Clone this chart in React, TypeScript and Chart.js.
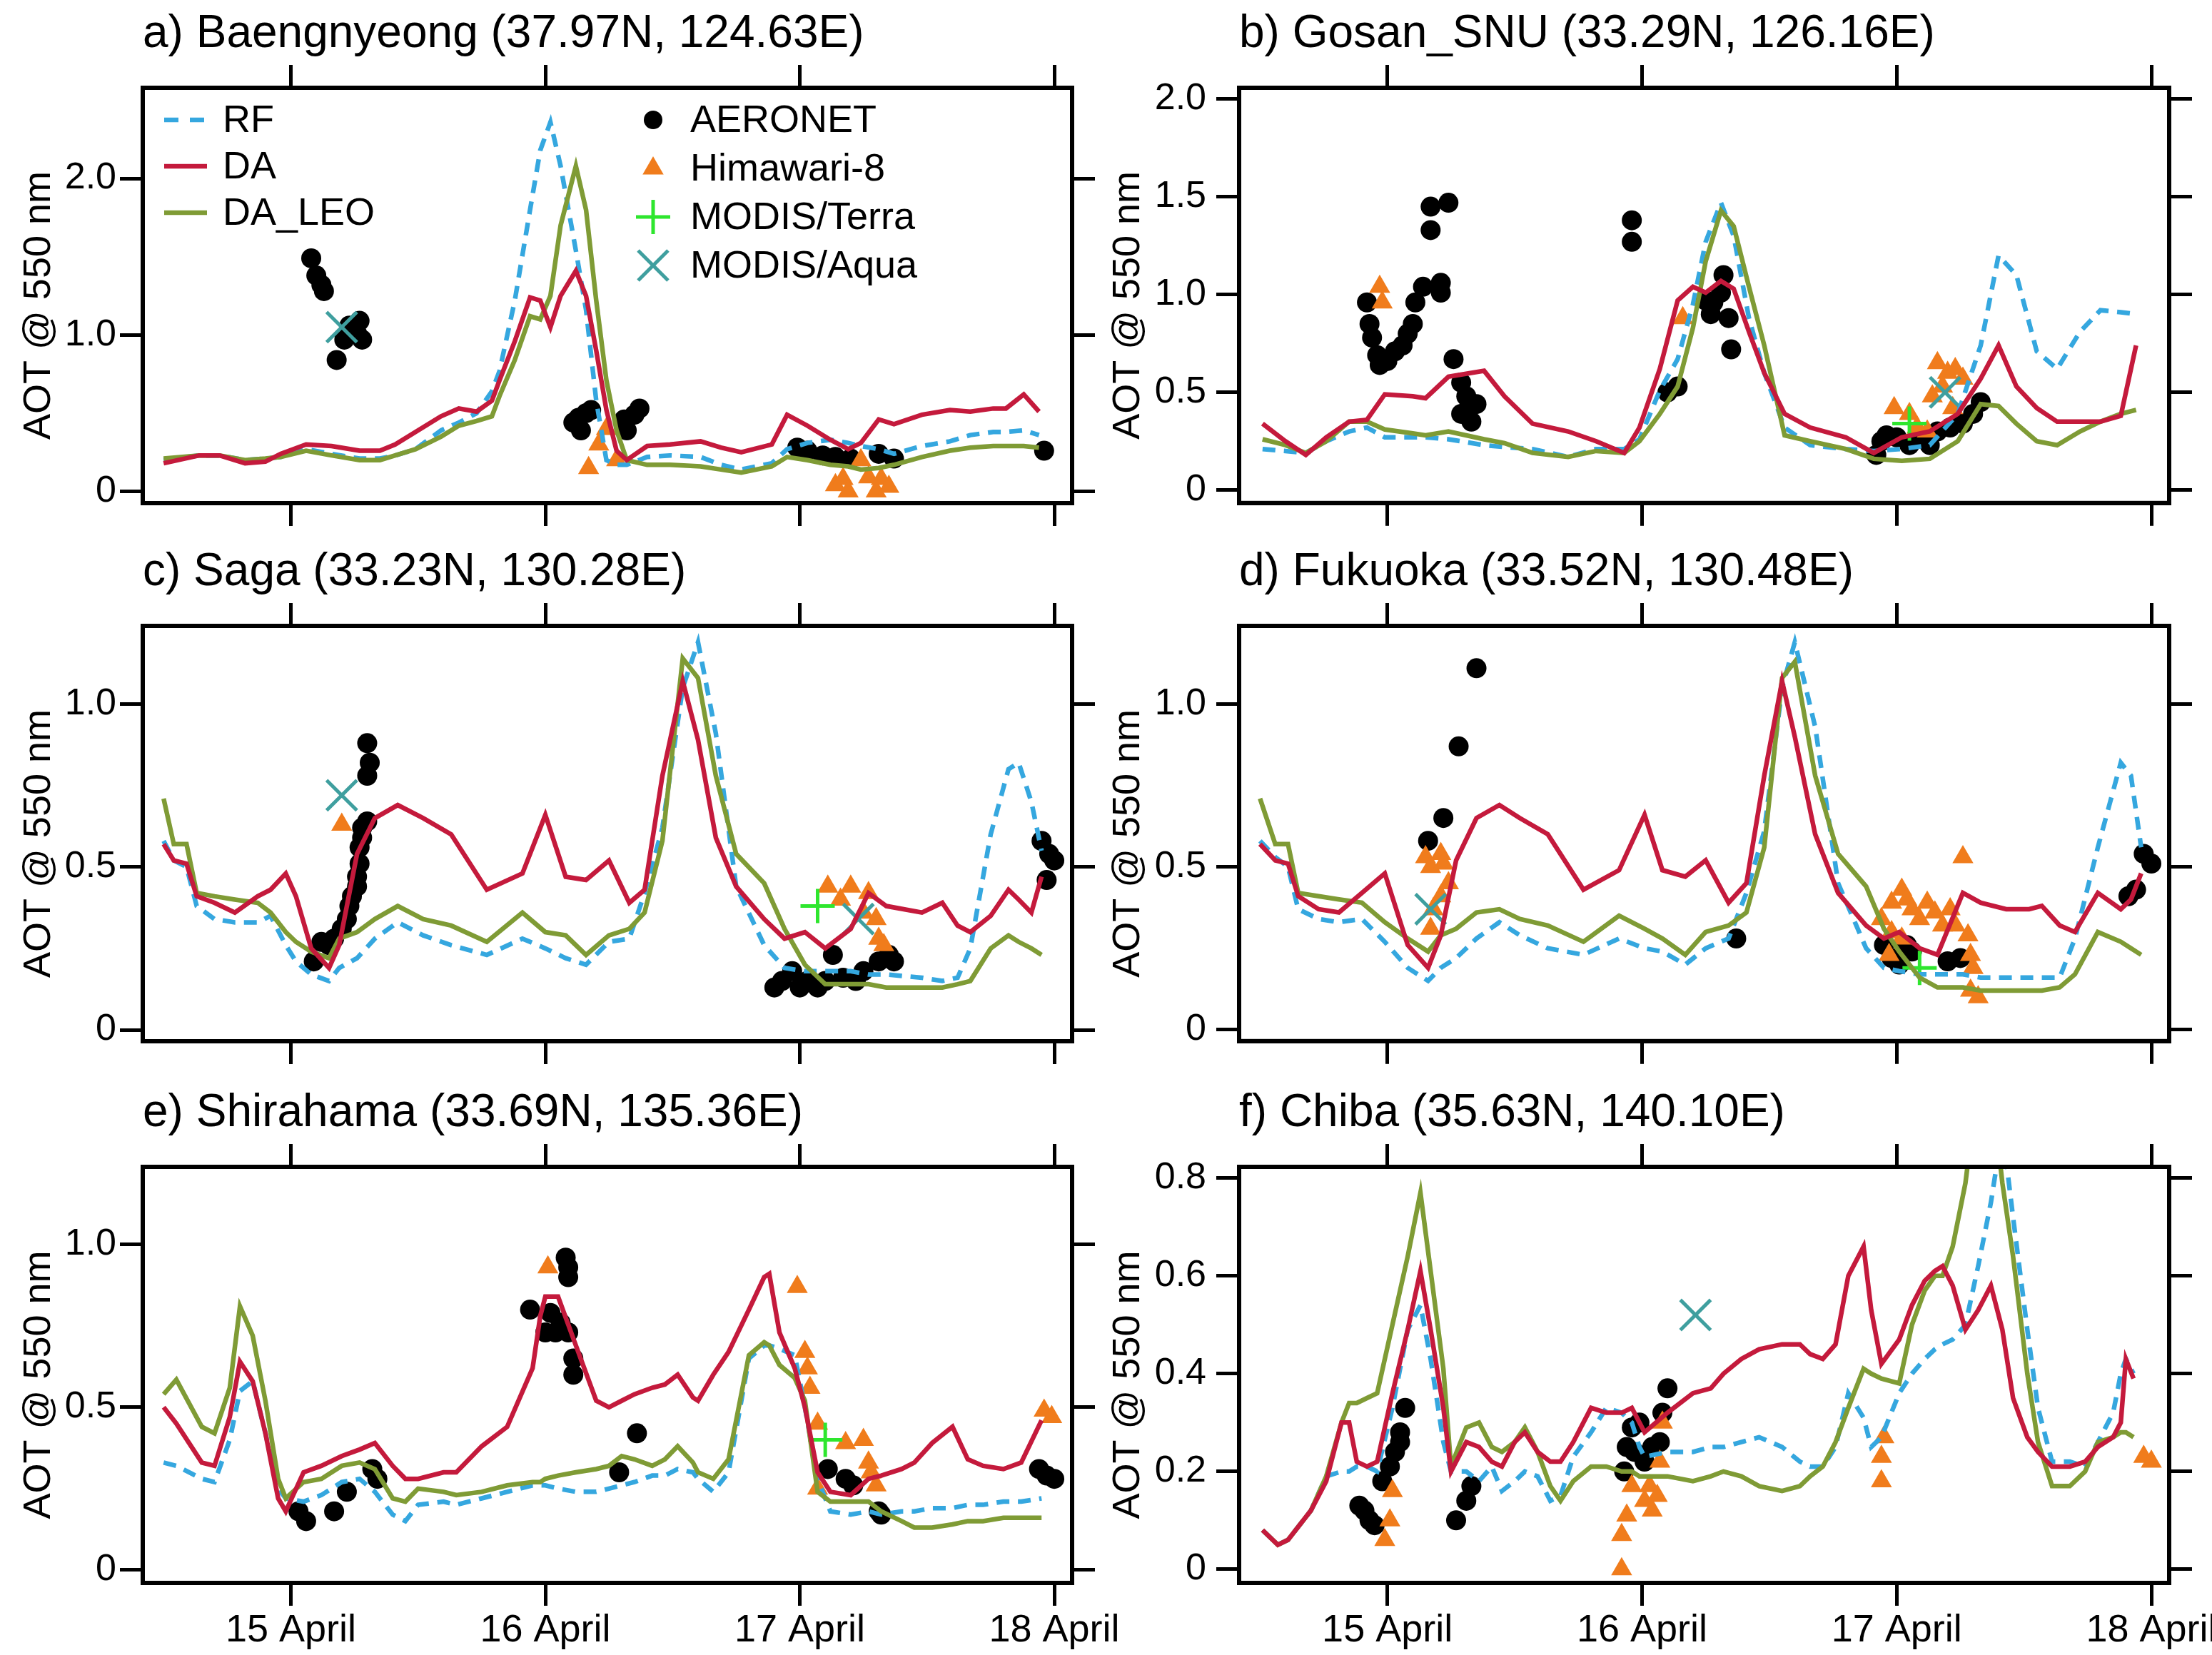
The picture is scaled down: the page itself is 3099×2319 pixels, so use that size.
import React, { useEffect, useRef } from 'react';
import { Chart, registerables } from 'chart.js';

Chart.register(...registerables);

const FONT = "'Liberation Sans', Arial, Helvetica, sans-serif";

// ---------- shared axis data ----------
const xTickValues = [1, 2, 3, 4];
const xTickLabels = ['15 April', '16 April', '17 April', '18 April'];
const X_MIN = 0.418;
const X_MAX = 4.07;
const yAxisTitle = 'AOT @ 550 nm';

const seriesNames = ['RF', 'DA', 'DA_LEO'];
const obsNames = ['AERONET', 'Himawari-8', 'MODIS/Terra', 'MODIS/Aqua'];

// ---------- a) Baengnyeong ----------
const aTime = [0.5, 0.64, 0.72, 0.82, 0.9, 0.96, 1.06, 1.16, 1.27, 1.35, 1.41, 1.49, 1.59, 1.66, 1.73, 1.79, 1.82, 1.88, 1.94, 1.98, 2.02, 2.06, 2.12, 2.16, 2.2, 2.24, 2.28, 2.32, 2.4, 2.49, 2.61, 2.69, 2.77, 2.89, 2.95, 3.03, 3.12, 3.19, 3.24, 3.31, 3.37, 3.48, 3.59, 3.67, 3.76, 3.81, 3.88, 3.94];
const aRF = [0.20, 0.23, 0.23, 0.20, 0.21, 0.22, 0.27, 0.24, 0.21, 0.21, 0.23, 0.27, 0.39, 0.44, 0.50, 0.64, 0.77, 1.22, 1.80, 2.18, 2.36, 2.08, 1.54, 1.16, 0.58, 0.20, 0.17, 0.17, 0.22, 0.23, 0.22, 0.17, 0.14, 0.18, 0.27, 0.31, 0.33, 0.31, 0.29, 0.27, 0.24, 0.29, 0.32, 0.36, 0.38, 0.38, 0.39, 0.36];
const aDA = [0.18, 0.23, 0.23, 0.18, 0.19, 0.24, 0.30, 0.29, 0.26, 0.26, 0.30, 0.38, 0.48, 0.53, 0.51, 0.58, 0.71, 0.96, 1.24, 1.22, 1.05, 1.25, 1.41, 1.25, 0.90, 0.52, 0.26, 0.20, 0.29, 0.30, 0.32, 0.28, 0.25, 0.30, 0.49, 0.42, 0.33, 0.27, 0.31, 0.46, 0.43, 0.49, 0.52, 0.51, 0.53, 0.53, 0.62, 0.51];
const aLEO = [0.21, 0.23, 0.23, 0.20, 0.21, 0.22, 0.26, 0.23, 0.20, 0.20, 0.23, 0.27, 0.35, 0.42, 0.45, 0.48, 0.61, 0.84, 1.12, 1.10, 1.25, 1.70, 2.08, 1.80, 1.22, 0.71, 0.39, 0.20, 0.17, 0.17, 0.16, 0.14, 0.12, 0.16, 0.22, 0.20, 0.17, 0.16, 0.14, 0.15, 0.17, 0.22, 0.26, 0.28, 0.29, 0.29, 0.29, 0.28];
const aAeronet = [[1.08, 1.49], [1.10, 1.38], [1.12, 1.32], [1.13, 1.28], [1.18, 0.84], [1.21, 0.97], [1.23, 1.06], [1.25, 1.03], [1.27, 1.09], [1.28, 0.97], [1.26, 1.01], [2.11, 0.44], [2.13, 0.47], [2.14, 0.39], [2.16, 0.50], [2.18, 0.52], [2.31, 0.46], [2.32, 0.39], [2.35, 0.49], [2.37, 0.53], [2.99, 0.28], [3.03, 0.26], [3.09, 0.23], [3.14, 0.22], [3.20, 0.21], [3.31, 0.24], [3.37, 0.21], [3.96, 0.26]];
const aHima = [[2.17, 0.15], [2.21, 0.30], [2.24, 0.40], [2.28, 0.20], [3.14, 0.04], [3.17, 0.08], [3.19, 0.0], [3.24, 0.20], [3.27, 0.09], [3.30, 0.0], [3.32, 0.08], [3.35, 0.03]];
const aTerra: number[][] = [];
const aAqua = [[1.20, 1.05]];
const aYTicks = [0, 1, 2];

// ---------- b) Gosan_SNU ----------
const bTime = [0.51, 0.6, 0.68, 0.76, 0.85, 0.92, 0.99, 1.1, 1.15, 1.24, 1.38, 1.46, 1.57, 1.71, 1.82, 1.93, 1.99, 2.07, 2.14, 2.2, 2.25, 2.31, 2.36, 2.42, 2.48, 2.56, 2.66, 2.8, 2.91, 3.02, 3.13, 3.24, 3.33, 3.4, 3.47, 3.55, 3.63, 3.72, 3.8, 3.88, 3.94];
const bRF = [0.21, 0.20, 0.19, 0.25, 0.30, 0.32, 0.27, 0.27, 0.27, 0.26, 0.23, 0.22, 0.21, 0.17, 0.21, 0.21, 0.26, 0.51, 0.67, 0.95, 1.27, 1.47, 1.30, 0.88, 0.60, 0.32, 0.23, 0.21, 0.20, 0.21, 0.23, 0.39, 0.74, 1.20, 1.10, 0.71, 0.62, 0.81, 0.92, 0.91, 0.90];
const bDA = [0.34, 0.25, 0.18, 0.27, 0.35, 0.36, 0.49, 0.48, 0.47, 0.58, 0.61, 0.48, 0.34, 0.30, 0.25, 0.19, 0.32, 0.62, 0.97, 1.04, 1.01, 1.07, 1.03, 0.81, 0.60, 0.39, 0.32, 0.27, 0.19, 0.27, 0.30, 0.39, 0.57, 0.74, 0.53, 0.42, 0.35, 0.35, 0.35, 0.38, 0.74];
const bLEO = [0.26, 0.23, 0.19, 0.25, 0.35, 0.35, 0.31, 0.29, 0.28, 0.30, 0.26, 0.24, 0.19, 0.17, 0.20, 0.19, 0.25, 0.39, 0.53, 0.83, 1.17, 1.43, 1.35, 1.04, 0.74, 0.28, 0.25, 0.21, 0.16, 0.15, 0.16, 0.25, 0.44, 0.43, 0.34, 0.25, 0.23, 0.30, 0.35, 0.39, 0.41];
const bAeronet = [[0.92, 0.96], [0.93, 0.85], [0.94, 0.78], [0.96, 0.69], [0.97, 0.64], [1.00, 0.66], [1.03, 0.71], [1.06, 0.74], [1.08, 0.80], [1.10, 0.85], [1.11, 0.96], [1.14, 1.04], [1.17, 1.45], [1.17, 1.33], [1.21, 1.06], [1.24, 1.47], [1.21, 1.01], [1.26, 0.67], [1.29, 0.55], [1.31, 0.48], [1.32, 0.42], [1.33, 0.35], [1.35, 0.44], [1.29, 0.39], [1.96, 1.38], [1.96, 1.27], [2.10, 0.50], [2.14, 0.53], [2.25, 0.97], [2.27, 0.90], [2.28, 0.96], [2.31, 1.01], [2.32, 1.10], [2.34, 0.88], [2.35, 0.72], [2.92, 0.18], [2.94, 0.25], [2.96, 0.28], [3.00, 0.27], [3.05, 0.23], [3.10, 0.27], [3.13, 0.23], [3.16, 0.30], [3.21, 0.32], [3.26, 0.34], [3.30, 0.39], [3.33, 0.45]];
const bHima = [[0.97, 1.04], [0.98, 0.96], [2.16, 0.88], [2.99, 0.42], [3.05, 0.39], [3.08, 0.32], [3.12, 0.30], [3.14, 0.48], [3.16, 0.65], [3.18, 0.53], [3.20, 0.60], [3.22, 0.42], [3.23, 0.62], [3.26, 0.57]];
const bTerra = [[3.05, 0.34]];
const bAqua = [[3.19, 0.50]];
const bYTicks = [0, 0.5, 1, 1.5, 2];

// ---------- c) Saga ----------
const cTime = [0.5, 0.54, 0.59, 0.63, 0.7, 0.78, 0.87, 0.92, 0.98, 1.02, 1.08, 1.15, 1.19, 1.26, 1.33, 1.42, 1.52, 1.63, 1.77, 1.91, 2.0, 2.08, 2.16, 2.25, 2.33, 2.39, 2.46, 2.54, 2.6, 2.67, 2.75, 2.86, 2.94, 3.02, 3.1, 3.2, 3.27, 3.34, 3.48, 3.56, 3.62, 3.67, 3.75, 3.82, 3.86, 3.91, 3.95];
const cRF = [0.58, 0.52, 0.50, 0.38, 0.34, 0.33, 0.33, 0.35, 0.26, 0.21, 0.17, 0.15, 0.19, 0.22, 0.28, 0.33, 0.29, 0.26, 0.23, 0.28, 0.25, 0.22, 0.20, 0.27, 0.28, 0.42, 0.62, 1.05, 1.19, 0.91, 0.44, 0.26, 0.19, 0.18, 0.18, 0.18, 0.17, 0.17, 0.16, 0.15, 0.16, 0.25, 0.60, 0.80, 0.82, 0.70, 0.55];
const cDA = [0.57, 0.52, 0.51, 0.41, 0.39, 0.36, 0.41, 0.43, 0.48, 0.41, 0.25, 0.19, 0.26, 0.54, 0.65, 0.69, 0.65, 0.60, 0.43, 0.48, 0.66, 0.47, 0.46, 0.52, 0.39, 0.43, 0.78, 1.07, 0.89, 0.59, 0.44, 0.34, 0.28, 0.30, 0.25, 0.31, 0.42, 0.38, 0.36, 0.39, 0.32, 0.30, 0.35, 0.43, 0.40, 0.36, 0.47];
const cLEO = [0.71, 0.57, 0.57, 0.42, 0.41, 0.40, 0.39, 0.36, 0.30, 0.27, 0.24, 0.22, 0.28, 0.30, 0.34, 0.38, 0.34, 0.32, 0.27, 0.36, 0.30, 0.29, 0.23, 0.29, 0.31, 0.36, 0.58, 1.14, 1.08, 0.78, 0.54, 0.45, 0.31, 0.20, 0.14, 0.14, 0.14, 0.13, 0.13, 0.13, 0.14, 0.15, 0.25, 0.29, 0.27, 0.25, 0.23];
const cAeronet = [[1.09, 0.21], [1.12, 0.27], [1.15, 0.26], [1.17, 0.28], [1.20, 0.31], [1.22, 0.34], [1.23, 0.38], [1.24, 0.41], [1.26, 0.44], [1.26, 0.47], [1.27, 0.51], [1.27, 0.56], [1.28, 0.59], [1.28, 0.62], [1.30, 0.64], [1.30, 0.78], [1.31, 0.82], [1.30, 0.88], [2.90, 0.13], [2.93, 0.15], [2.97, 0.18], [3.00, 0.13], [3.03, 0.15], [3.07, 0.13], [3.10, 0.15], [3.13, 0.23], [3.17, 0.16], [3.22, 0.15], [3.25, 0.18], [3.31, 0.21], [3.35, 0.23], [3.37, 0.21], [3.95, 0.58], [3.97, 0.46], [3.98, 0.54], [4.00, 0.52]];
const cHima = [[1.20, 0.63], [3.11, 0.44], [3.16, 0.40], [3.20, 0.44], [3.25, 0.36], [3.27, 0.42], [3.30, 0.34], [3.31, 0.28], [3.33, 0.26]];
const cTerra = [[3.07, 0.38]];
const cAqua = [[1.20, 0.72], [3.23, 0.34]];
const cYTicks = [0, 0.5, 1];

// ---------- d) Fukuoka ----------
const dTime = [0.5, 0.56, 0.61, 0.65, 0.73, 0.81, 0.9, 0.99, 1.08, 1.16, 1.21, 1.27, 1.35, 1.44, 1.52, 1.63, 1.77, 1.91, 2.01, 2.08, 2.17, 2.25, 2.34, 2.41, 2.48, 2.55, 2.6, 2.68, 2.77, 2.88, 2.95, 3.01, 3.09, 3.16, 3.26, 3.33, 3.43, 3.52, 3.57, 3.64, 3.7, 3.79, 3.88, 3.92, 3.96];
const dRF = [0.58, 0.53, 0.50, 0.37, 0.34, 0.33, 0.34, 0.27, 0.19, 0.15, 0.19, 0.22, 0.28, 0.33, 0.29, 0.25, 0.23, 0.28, 0.25, 0.24, 0.20, 0.25, 0.28, 0.42, 0.61, 1.05, 1.19, 0.93, 0.45, 0.25, 0.19, 0.18, 0.17, 0.17, 0.17, 0.16, 0.16, 0.16, 0.16, 0.16, 0.28, 0.56, 0.82, 0.78, 0.56];
const dDA = [0.57, 0.52, 0.51, 0.41, 0.37, 0.36, 0.42, 0.48, 0.26, 0.19, 0.29, 0.52, 0.65, 0.69, 0.65, 0.60, 0.43, 0.49, 0.66, 0.49, 0.47, 0.52, 0.39, 0.45, 0.78, 1.07, 0.90, 0.60, 0.42, 0.32, 0.28, 0.30, 0.25, 0.23, 0.42, 0.39, 0.37, 0.37, 0.38, 0.32, 0.30, 0.42, 0.37, 0.40, 0.48];
const dLEO = [0.71, 0.57, 0.57, 0.42, 0.41, 0.40, 0.39, 0.33, 0.28, 0.24, 0.29, 0.31, 0.36, 0.37, 0.34, 0.32, 0.27, 0.35, 0.31, 0.28, 0.23, 0.30, 0.32, 0.36, 0.56, 1.08, 1.13, 0.78, 0.54, 0.44, 0.31, 0.24, 0.16, 0.13, 0.13, 0.12, 0.12, 0.12, 0.12, 0.13, 0.17, 0.30, 0.27, 0.25, 0.23];
const dAeronet = [[1.16, 0.58], [1.22, 0.65], [1.28, 0.87], [1.35, 1.11], [2.37, 0.28], [2.95, 0.26], [2.98, 0.22], [3.01, 0.20], [3.04, 0.26], [3.06, 0.24], [3.20, 0.21], [3.25, 0.22], [3.91, 0.41], [3.94, 0.43], [3.97, 0.54], [4.00, 0.51]];
const dHima = [[1.15, 0.53], [1.17, 0.50], [1.21, 0.54], [1.22, 0.51], [1.24, 0.45], [1.21, 0.41], [1.18, 0.37], [1.17, 0.31], [2.94, 0.34], [2.98, 0.39], [3.02, 0.43], [3.04, 0.40], [3.06, 0.37], [3.09, 0.34], [3.12, 0.39], [3.15, 0.36], [3.18, 0.32], [3.21, 0.37], [3.23, 0.32], [3.26, 0.53], [3.28, 0.29], [3.29, 0.23], [3.30, 0.19], [3.29, 0.12], [3.32, 0.10], [2.98, 0.30], [3.02, 0.28], [2.97, 0.23]];
const dTerra = [[3.09, 0.19]];
const dAqua = [[1.17, 0.37]];
const dYTicks = [0, 0.5, 1];

// ---------- e) Shirahama ----------
const eTime = [0.5, 0.55, 0.65, 0.7, 0.76, 0.8, 0.85, 0.9, 0.95, 0.98, 1.05, 1.12, 1.2, 1.27, 1.33, 1.4, 1.45, 1.5, 1.6, 1.65, 1.75, 1.85, 1.95, 1.98, 2.0, 2.05, 2.12, 2.2, 2.25, 2.3, 2.35, 2.42, 2.47, 2.52, 2.58, 2.6, 2.66, 2.72, 2.8, 2.86, 2.88, 2.92, 2.98, 3.02, 3.07, 3.12, 3.2, 3.27, 3.32, 3.4, 3.45, 3.52, 3.6, 3.66, 3.72, 3.8, 3.87, 3.95];
const eRF = [0.33, 0.32, 0.28, 0.27, 0.40, 0.55, 0.58, 0.42, 0.25, 0.22, 0.21, 0.23, 0.27, 0.28, 0.24, 0.17, 0.15, 0.20, 0.21, 0.20, 0.22, 0.24, 0.26, 0.26, 0.26, 0.25, 0.24, 0.24, 0.25, 0.26, 0.27, 0.29, 0.29, 0.31, 0.30, 0.28, 0.24, 0.30, 0.65, 0.69, 0.69, 0.68, 0.66, 0.50, 0.28, 0.18, 0.17, 0.18, 0.17, 0.18, 0.18, 0.19, 0.19, 0.20, 0.20, 0.21, 0.21, 0.22];
const eDA = [0.50, 0.45, 0.33, 0.32, 0.47, 0.64, 0.58, 0.42, 0.22, 0.18, 0.30, 0.32, 0.35, 0.37, 0.39, 0.32, 0.28, 0.28, 0.30, 0.30, 0.38, 0.44, 0.62, 0.78, 0.84, 0.84, 0.69, 0.52, 0.50, 0.52, 0.54, 0.56, 0.57, 0.60, 0.53, 0.52, 0.60, 0.67, 0.80, 0.90, 0.91, 0.73, 0.62, 0.50, 0.30, 0.24, 0.23, 0.28, 0.29, 0.31, 0.33, 0.39, 0.44, 0.34, 0.32, 0.31, 0.33, 0.46];
const eLEO = [0.54, 0.585, 0.44, 0.42, 0.56, 0.81, 0.72, 0.52, 0.28, 0.22, 0.27, 0.28, 0.32, 0.33, 0.31, 0.22, 0.21, 0.25, 0.24, 0.23, 0.24, 0.26, 0.27, 0.27, 0.28, 0.29, 0.30, 0.31, 0.32, 0.35, 0.34, 0.32, 0.34, 0.38, 0.33, 0.30, 0.28, 0.34, 0.66, 0.70, 0.69, 0.63, 0.59, 0.52, 0.24, 0.21, 0.21, 0.21, 0.18, 0.15, 0.13, 0.13, 0.14, 0.15, 0.15, 0.16, 0.16, 0.16];
const eAeronet = [[1.03, 0.18], [1.06, 0.15], [1.17, 0.18], [1.22, 0.24], [1.32, 0.31], [1.34, 0.28], [1.94, 0.80], [2.00, 0.73], [2.02, 0.79], [2.04, 0.73], [2.06, 0.76], [2.09, 0.73], [2.08, 0.96], [2.09, 0.93], [2.09, 0.90], [2.11, 0.65], [2.11, 0.60], [2.29, 0.30], [2.36, 0.42], [3.11, 0.31], [3.18, 0.28], [3.21, 0.26], [3.31, 0.18], [3.32, 0.17], [3.94, 0.31], [3.97, 0.29], [4.00, 0.28]];
const eHima = [[2.01, 0.93], [2.99, 0.87], [3.02, 0.67], [3.03, 0.62], [3.04, 0.56], [3.07, 0.45], [3.07, 0.25], [3.18, 0.39], [3.25, 0.40], [3.27, 0.33], [3.28, 0.30], [3.30, 0.26], [3.96, 0.49], [3.99, 0.47]];
const eTerra = [[3.10, 0.40]];
const eAqua: number[][] = [];
const eYTicks = [0, 0.5, 1];

// ---------- f) Chiba ----------
const fTime = [0.51, 0.57, 0.61, 0.7, 0.76, 0.82, 0.85, 0.88, 0.92, 0.96, 1.02, 1.08, 1.13, 1.17, 1.22, 1.25, 1.31, 1.36, 1.41, 1.45, 1.5, 1.54, 1.59, 1.64, 1.68, 1.73, 1.8, 1.86, 1.92, 1.96, 1.99, 2.01, 2.1, 2.2, 2.27, 2.32, 2.39, 2.46, 2.55, 2.62, 2.66, 2.71, 2.76, 2.81, 2.87, 2.9, 2.94, 3.01, 3.06, 3.11, 3.15, 3.18, 3.22, 3.27, 3.32, 3.37, 3.415, 3.457, 3.513, 3.555, 3.61, 3.68, 3.74, 3.79, 3.85, 3.88, 3.9, 3.93];
const fRF = [0.08, 0.05, 0.06, 0.12, 0.19, 0.20, 0.20, 0.21, 0.21, 0.20, 0.33, 0.49, 0.54, 0.43, 0.26, 0.20, 0.20, 0.18, 0.21, 0.16, 0.18, 0.20, 0.19, 0.14, 0.15, 0.23, 0.28, 0.33, 0.32, 0.30, 0.25, 0.23, 0.24, 0.24, 0.25, 0.25, 0.26, 0.27, 0.25, 0.22, 0.21, 0.21, 0.25, 0.36, 0.31, 0.25, 0.27, 0.36, 0.40, 0.43, 0.45, 0.46, 0.47, 0.50, 0.62, 0.75, 0.90, 0.72, 0.49, 0.33, 0.22, 0.22, 0.21, 0.26, 0.32, 0.40, 0.43, 0.40];
const fDA = [0.08, 0.05, 0.06, 0.12, 0.18, 0.30, 0.30, 0.22, 0.21, 0.22, 0.36, 0.49, 0.61, 0.49, 0.33, 0.20, 0.26, 0.25, 0.22, 0.21, 0.26, 0.28, 0.24, 0.22, 0.22, 0.26, 0.33, 0.32, 0.32, 0.33, 0.30, 0.28, 0.32, 0.36, 0.37, 0.40, 0.43, 0.45, 0.46, 0.46, 0.44, 0.43, 0.46, 0.60, 0.66, 0.53, 0.42, 0.47, 0.54, 0.59, 0.61, 0.62, 0.58, 0.49, 0.53, 0.58, 0.49, 0.35, 0.27, 0.24, 0.21, 0.21, 0.22, 0.25, 0.27, 0.30, 0.43, 0.39];
const fLEO = [0.08, 0.05, 0.06, 0.12, 0.19, 0.30, 0.34, 0.34, 0.35, 0.36, 0.50, 0.64, 0.77, 0.61, 0.41, 0.21, 0.29, 0.30, 0.25, 0.24, 0.26, 0.29, 0.24, 0.17, 0.14, 0.18, 0.21, 0.21, 0.20, 0.20, 0.19, 0.19, 0.19, 0.18, 0.19, 0.20, 0.19, 0.17, 0.16, 0.17, 0.19, 0.21, 0.26, 0.33, 0.41, 0.40, 0.39, 0.38, 0.50, 0.57, 0.60, 0.60, 0.66, 0.79, 1.00, 1.00, 0.79, 0.64, 0.40, 0.26, 0.17, 0.17, 0.20, 0.26, 0.27, 0.28, 0.28, 0.27];
const fAeronet = [[0.89, 0.13], [0.91, 0.12], [0.93, 0.10], [0.95, 0.09], [0.98, 0.18], [1.01, 0.21], [1.03, 0.24], [1.05, 0.26], [1.05, 0.28], [1.07, 0.33], [1.27, 0.10], [1.31, 0.14], [1.33, 0.17], [1.93, 0.20], [1.94, 0.25], [1.96, 0.29], [1.97, 0.24], [1.99, 0.30], [2.01, 0.22], [2.04, 0.25], [2.07, 0.26], [2.08, 0.32], [2.10, 0.37]];
const fHima = [[0.99, 0.06], [1.01, 0.10], [1.02, 0.16], [1.92, 0.0], [1.92, 0.07], [1.94, 0.11], [1.96, 0.17], [2.01, 0.14], [2.03, 0.17], [2.04, 0.12], [2.06, 0.15], [2.07, 0.22], [2.08, 0.30], [2.94, 0.18], [2.94, 0.23], [2.95, 0.27], [3.97, 0.23], [4.00, 0.22]];
const fTerra: number[][] = [];
const fAqua = [[2.21, 0.52]];
const fYTicks = [0, 0.2, 0.4, 0.6, 0.8];

// ---------- styling ----------
const C_RF = '#35a7df';
const C_DA = '#c41a3c';
const C_LEO = '#7f9b35';
const C_AER = '#000000';
const C_HIM = '#f07c1c';
const C_TER = '#2ee62e';
const C_AQU = '#3f9f9f';

interface Spec {
  title: string;
  time: number[];
  rf: number[];
  da: number[];
  leo: number[];
  aer: number[][];
  him: number[][];
  ter: number[][];
  aqu: number[][];
  yMin: number;
  yMax: number;
  yTicks: number[];
  areaLeft: number;
  areaTop: number;
  areaW: number;
  areaH: number;
  showX: boolean;
  legend: boolean;
  rightCol: boolean;
}

const LEFT_X = 200;
const RIGHT_X = 1736;
const ROW_TOPS = [123, 877, 1635];

const specs: Spec[] = [
  { title: 'a) Baengnyeong (37.97N, 124.63E)', time: aTime, rf: aRF, da: aDA, leo: aLEO, aer: aAeronet, him: aHima, ter: aTerra, aqu: aAqua, yMin: -0.075, yMax: 2.58, yTicks: aYTicks, areaLeft: LEFT_X, areaTop: ROW_TOPS[0], areaW: 1302, areaH: 582, showX: false, legend: true, rightCol: false },
  { title: 'b) Gosan_SNU (33.29N, 126.16E)', time: bTime, rf: bRF, da: bDA, leo: bLEO, aer: bAeronet, him: bHima, ter: bTerra, aqu: bAqua, yMin: -0.066, yMax: 2.058, yTicks: bYTicks, areaLeft: RIGHT_X, areaTop: ROW_TOPS[0], areaW: 1303, areaH: 582, showX: false, legend: false, rightCol: true },
  { title: 'c) Saga (33.23N, 130.28E)', time: cTime, rf: cRF, da: cDA, leo: cLEO, aer: cAeronet, him: cHima, ter: cTerra, aqu: cAqua, yMin: -0.035, yMax: 1.24, yTicks: cYTicks, areaLeft: LEFT_X, areaTop: ROW_TOPS[1], areaW: 1302, areaH: 582, showX: false, legend: false, rightCol: false },
  { title: 'd) Fukuoka (33.52N, 130.48E)', time: dTime, rf: dRF, da: dDA, leo: dLEO, aer: dAeronet, him: dHima, ter: dTerra, aqu: dAqua, yMin: -0.035, yMax: 1.24, yTicks: dYTicks, areaLeft: RIGHT_X, areaTop: ROW_TOPS[1], areaW: 1303, areaH: 582, showX: false, legend: false, rightCol: true },
  { title: 'e) Shirahama (33.69N, 135.36E)', time: eTime, rf: eRF, da: eDA, leo: eLEO, aer: eAeronet, him: eHima, ter: eTerra, aqu: eAqua, yMin: -0.04, yMax: 1.239, yTicks: eYTicks, areaLeft: LEFT_X, areaTop: ROW_TOPS[2], areaW: 1302, areaH: 583, showX: true, legend: false, rightCol: false },
  { title: 'f) Chiba (35.63N, 140.10E)', time: fTime, rf: fRF, da: fDA, leo: fLEO, aer: fAeronet, him: fHima, ter: fTerra, aqu: fAqua, yMin: -0.028, yMax: 0.823, yTicks: fYTicks, areaLeft: RIGHT_X, areaTop: ROW_TOPS[2], areaW: 1303, areaH: 583, showX: true, legend: false, rightCol: true },
];

const L = 200;
const T = 120;
const R = 80;

const pts = (t: number[], v: number[]) => t.map((x, i) => ({ x, y: v[i] }));
const pairs = (p: number[][]) => p.map(([x, y]) => ({ x, y }));

function drawMarker(ctx: CanvasRenderingContext2D, kind: string, x: number, y: number) {
  ctx.save();
  if (kind === 'circle') {
    ctx.fillStyle = C_AER;
    ctx.beginPath();
    ctx.arc(x, y, 13, 0, Math.PI * 2);
    ctx.fill();
  } else if (kind === 'triangle') {
    const r = 17;
    ctx.fillStyle = C_HIM;
    ctx.beginPath();
    ctx.moveTo(x, y - r);
    ctx.lineTo(x + r * 0.866, y + r * 0.5);
    ctx.lineTo(x - r * 0.866, y + r * 0.5);
    ctx.closePath();
    ctx.fill();
  } else if (kind === 'cross') {
    const r = 24;
    ctx.strokeStyle = C_TER;
    ctx.lineWidth = 5;
    ctx.beginPath();
    ctx.moveTo(x - r, y);
    ctx.lineTo(x + r, y);
    ctx.moveTo(x, y - r);
    ctx.lineTo(x, y + r);
    ctx.stroke();
  } else {
    const r = 21;
    ctx.strokeStyle = C_AQU;
    ctx.lineWidth = 5;
    ctx.beginPath();
    ctx.moveTo(x - r, y - r);
    ctx.lineTo(x + r, y + r);
    ctx.moveTo(x + r, y - r);
    ctx.lineTo(x - r, y + r);
    ctx.stroke();
  }
  ctx.restore();
}

function Panel({ spec }: { spec: Spec }) {
  const ref = useRef<HTMLCanvasElement>(null);
  const B = spec.showX ? 110 : 45;
  const W = L + spec.areaW + R;
  const H = T + spec.areaH + B;

  useEffect(() => {
    if (!ref.current) return;
    const tickPad = spec.rightCol ? 14 : 5;
    const titleOffset = spec.rightCol ? 155 : 145;
    const gridOpts = { drawOnChartArea: false, drawTicks: true, tickLength: 32, color: '#000', lineWidth: 5 };
    const borderOpts = { display: true, color: '#000', width: 6 };

    const overlay = {
      id: 'overlay',
      afterDraw(chart: any) {
        const { ctx, chartArea } = chart;
        ctx.save();
        ctx.strokeStyle = '#000';
        ctx.lineWidth = 6;
        ctx.strokeRect(chartArea.left, chartArea.top, chartArea.right - chartArea.left, chartArea.bottom - chartArea.top);
        ctx.fillStyle = '#000';
        ctx.font = `64px ${FONT}`;
        ctx.textAlign = 'left';
        ctx.textBaseline = 'alphabetic';
        ctx.fillText(spec.title, chartArea.left, chartArea.top - 57);

        // y axis title
        ctx.save();
        ctx.translate(chartArea.left - titleOffset, (chartArea.top + chartArea.bottom) / 2 + 14);
        ctx.rotate(-Math.PI / 2);
        ctx.font = `54px ${FONT}`;
        ctx.textAlign = 'center';
        ctx.textBaseline = 'middle';
        ctx.fillText(yAxisTitle, 0, 0);
        ctx.restore();

        if (spec.legend) {
          ctx.font = `54px ${FONT}`;
          ctx.textBaseline = 'middle';
          ctx.textAlign = 'left';
          const lineColors = [C_RF, C_DA, C_LEO];
          seriesNames.forEach((name, i) => {
            const y = chartArea.top + 45 + i * 65;
            ctx.save();
            ctx.strokeStyle = lineColors[i];
            ctx.lineWidth = 6.5;
            ctx.setLineDash(i === 0 ? [20, 16] : []);
            ctx.beginPath();
            ctx.moveTo(chartArea.left + 30, y);
            ctx.lineTo(chartArea.left + 90, y);
            ctx.stroke();
            ctx.restore();
            ctx.fillStyle = '#000';
            ctx.fillText(name, chartArea.left + 112, y + 2);
          });
          const kinds = ['circle', 'triangle', 'cross', 'crossRot'];
          obsNames.forEach((name, i) => {
            const y = chartArea.top + 45 + i * 68;
            drawMarker(ctx, kinds[i], chartArea.left + 715, y);
            ctx.fillStyle = '#000';
            ctx.fillText(name, chartArea.left + 767, y + 2);
          });
        }
        ctx.restore();
      },
    };

    const lineDs = (label: string, v: number[], color: string, order: number, dash: number[]) => ({
      type: 'scatter' as const,
      label,
      data: pts(spec.time, v),
      showLine: true,
      borderColor: color,
      backgroundColor: color,
      borderWidth: 6.5,
      borderDash: dash,
      pointRadius: 0,
      tension: 0,
      fill: false,
      order,
      clip: 0,
    });

    const markDs = (label: string, p: number[][], style: string, color: string, radius: number, filled: boolean, order: number) => ({
      type: 'scatter' as const,
      label,
      data: pairs(p),
      showLine: false,
      pointStyle: style,
      pointRadius: radius,
      pointBackgroundColor: filled ? color : 'rgba(0,0,0,0)',
      pointBorderColor: color,
      pointBorderWidth: filled ? 0 : 5,
      order,
    });

    const fixedX = (s: any) => {
      s.ticks = xTickValues.map((v) => ({ value: v }));
    };
    const fixedY = (s: any) => {
      s.ticks = spec.yTicks.map((v) => ({ value: v }));
    };

    const chart = new Chart(ref.current, {
      type: 'scatter',
      data: {
        datasets: [
          lineDs('DA', spec.da, C_DA, 0, []),
          lineDs('DA_LEO', spec.leo, C_LEO, 1, []),
          lineDs('RF', spec.rf, C_RF, 2, [18, 12]),
          markDs('MODIS/Aqua', spec.aqu, 'crossRot', C_AQU, 30, false, 10),
          markDs('MODIS/Terra', spec.ter, 'cross', C_TER, 24, false, 11),
          markDs('Himawari-8', spec.him, 'triangle', C_HIM, 17, true, 12),
          markDs('AERONET', spec.aer, 'circle', C_AER, 14, true, 13),
        ] as any,
      },
      options: {
        animation: false,
        responsive: false,
        maintainAspectRatio: false,
        devicePixelRatio: 1,
        events: [],
        layout: { padding: 0 },
        plugins: {
          legend: { display: false },
          tooltip: { enabled: false },
          title: { display: false },
        },
        scales: {
          x: {
            type: 'linear',
            position: 'bottom',
            min: X_MIN,
            max: X_MAX,
            afterBuildTicks: fixedX,
            afterFit: (s: any) => { s.height = B; },
            ticks: {
              display: spec.showX,
              autoSkip: false,
              maxRotation: 0,
              padding: 3,
              color: '#000',
              font: { size: 54, family: FONT },
              callback: (v: any) => xTickLabels[xTickValues.indexOf(Number(v))] ?? '',
            },
            grid: gridOpts,
            border: borderOpts,
          },
          xTop: {
            type: 'linear',
            position: 'top',
            min: X_MIN,
            max: X_MAX,
            afterBuildTicks: fixedX,
            afterFit: (s: any) => { s.height = T; },
            ticks: { display: false },
            grid: gridOpts,
            border: borderOpts,
          },
          y: {
            type: 'linear',
            position: 'left',
            min: spec.yMin,
            max: spec.yMax,
            afterBuildTicks: fixedY,
            afterFit: (s: any) => { s.width = L; },
            ticks: {
              padding: tickPad,
              color: '#000',
              font: { size: 52, family: FONT },
              callback: (v: any) => (Number(v) === 0 ? '0' : Number(v).toFixed(1)),
            },
            grid: gridOpts,
            border: borderOpts,
          },
          yRight: {
            type: 'linear',
            position: 'right',
            min: spec.yMin,
            max: spec.yMax,
            afterBuildTicks: fixedY,
            afterFit: (s: any) => { s.width = R; },
            ticks: { display: false },
            grid: gridOpts,
            border: borderOpts,
          },
        },
      } as any,
      plugins: [overlay],
    });
    return () => chart.destroy();
  }, []);

  return (
    <canvas
      ref={ref}
      width={W}
      height={H}
      style={{ position: 'absolute', left: spec.areaLeft - L, top: spec.areaTop - T, width: W, height: H }}
    />
  );
}

export default function App() {
  return (
    <div style={{ position: 'absolute', left: 0, top: 0, width: 3099, height: 2319, overflow: 'hidden', background: '#fff' }}>
      {specs.map((s, i) => (
        <Panel key={i} spec={s} />
      ))}
    </div>
  );
}
